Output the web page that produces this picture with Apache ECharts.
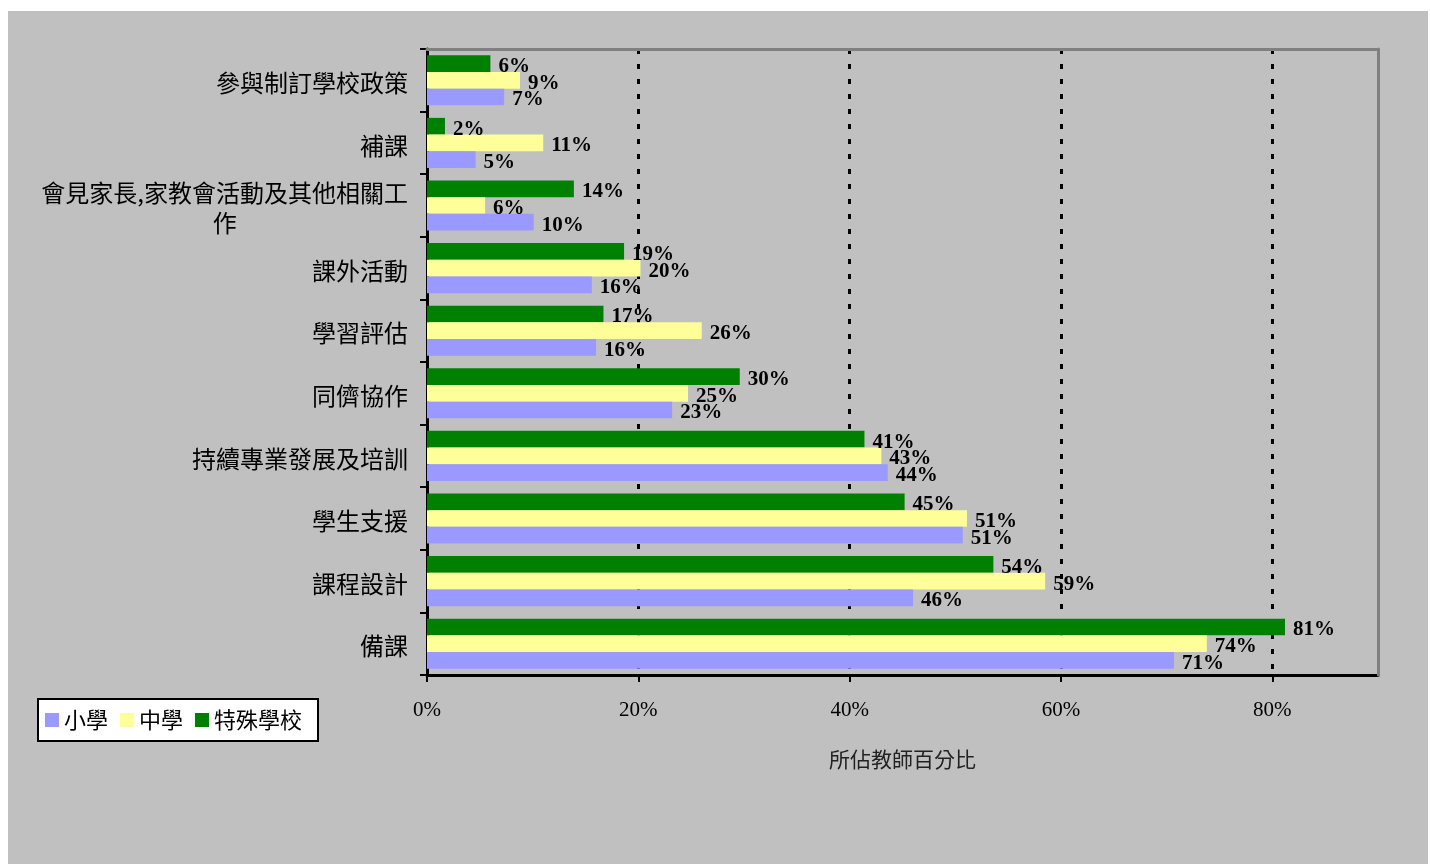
<!DOCTYPE html>
<html>
<head>
<meta charset="utf-8">
<script src="https://cdn.jsdelivr.net/npm/echarts@6/dist/echarts.min.js"></script>
<style>
html,body{margin:0;padding:0;background:#fff;}
#chart{width:1430px;height:864px;}
</style>
</head>
<body>
<div id="chart"></div>
<script>
const categories = ['參與制訂學校政策','補課','會見家長,家教會活動及其他相關工\n作','課外活動','學習評估','同儕協作','持續專業發展及培訓','學生支援','課程設計','備課'];
const primaryValues = [7.3, 4.6, 10.1, 15.6, 16.0, 23.2, 43.6, 50.7, 46.0, 70.7];
const secondaryValues = [8.8, 11.0, 5.5, 20.2, 26.0, 24.7, 43.0, 51.1, 58.5, 73.8];
const specialValues = [6.0, 1.7, 13.9, 18.65, 16.7, 29.6, 41.4, 45.2, 53.6, 81.2];
const seriesNames = ['小學', '中學', '特殊學校'];
const xTicks = [0, 20, 40, 60, 80];
const xAxisName = '所佔教師百分比';

const chart = echarts.init(document.getElementById('chart'), null, {renderer: 'canvas'});
const CJK = '"Noto Sans CJK TC", "Noto Sans CJK SC", sans-serif';
const SERIF = '"Liberation Serif", "DejaVu Serif", serif';

const barLabel = {
  show: true, position: 'right', distance: 8, offset: [0, 3],
  color: '#000', fontFamily: SERIF, fontWeight: 'bold', fontSize: 21,
  formatter: p => Math.round(p.value) + '%'
};

function mkSeries(name, data, color) {
  return {
    name, type: 'bar', data, barGap: '0%', barCategoryGap: '20%',
    itemStyle: {color}, label: barLabel, z: 2
  };
}

const option = {
  backgroundColor: '#fff',
  animation: false,
  graphic: [{type: 'rect', shape: {x: 8, y: 11, width: 1420, height: 853}, style: {fill: '#C0C0C0'}, z: -10, silent: true}],
  grid: {left: 427, right: 52, top: 49, bottom: 189, containLabel: false},
  legend: {
    data: seriesNames, left: 38, top: 699, orient: 'horizontal',
    backgroundColor: '#fff', borderColor: '#000', borderWidth: 2, borderRadius: 0,
    padding: [10, 16, 10, 7], itemWidth: 14, itemHeight: 14, itemGap: 12, icon: 'rect',
    textStyle: {fontFamily: CJK, fontSize: 22, color: '#000'}
  },
  xAxis: [{
    type: 'value', min: 0, max: 90, interval: 20, position: 'bottom',
    name: xAxisName, nameLocation: 'middle', nameGap: 74,
    nameTextStyle: {fontFamily: CJK, fontSize: 21, color: '#222'},
    axisLine: {show: true, lineStyle: {color: '#000', width: 3}},
    axisTick: {show: true, length: 7, lineStyle: {color: '#000', width: 2}, customValues: xTicks},
    axisLabel: {margin: 25, fontFamily: SERIF, fontSize: 21, color: '#000', customValues: xTicks,
      formatter: v => (v === 90 ? '' : v + '%')},
    splitLine: {show: true, lineStyle: {color: '#000', width: 3, type: [5, 10]}}
  }, {
    type: 'value', min: 0, max: 90, position: 'top', gridIndex: 0, z: 5,
    axisLine: {show: true, onZero: false, lineStyle: {color: '#808080', width: 3}},
    axisTick: {show: false}, axisLabel: {show: false}, splitLine: {show: false}
  }],
  yAxis: [{
    type: 'category', data: categories, inverse: true,
    axisLine: {show: true, lineStyle: {color: '#000', width: 3}},
    axisTick: {show: true, length: 7, lineStyle: {color: '#000', width: 2}},
    axisLabel: {
      margin: 19, color: '#000', fontFamily: CJK, fontSize: 24, lineHeight: 30,
      padding: [5, 0, 0, 0],
      formatter: v => v.split('\n').map(s => '{c|' + s + '}').join('\n'),
      rich: {c: {align: 'center', fontFamily: CJK, fontSize: 24, lineHeight: 30, color: '#000'}}
    },
    splitLine: {show: false}
  }, {
    type: 'value', min: 0, max: 1, position: 'right', z: 5,
    axisLine: {show: true, onZero: false, lineStyle: {color: '#808080', width: 3}},
    axisTick: {show: false}, axisLabel: {show: false}, splitLine: {show: false}
  }],
  series: [
    mkSeries(seriesNames[2], specialValues, '#008000'),
    mkSeries(seriesNames[1], secondaryValues, '#FFFF99'),
    mkSeries(seriesNames[0], primaryValues, '#9999FF')
  ]
};
chart.setOption(option);
</script>
</body>
</html>
